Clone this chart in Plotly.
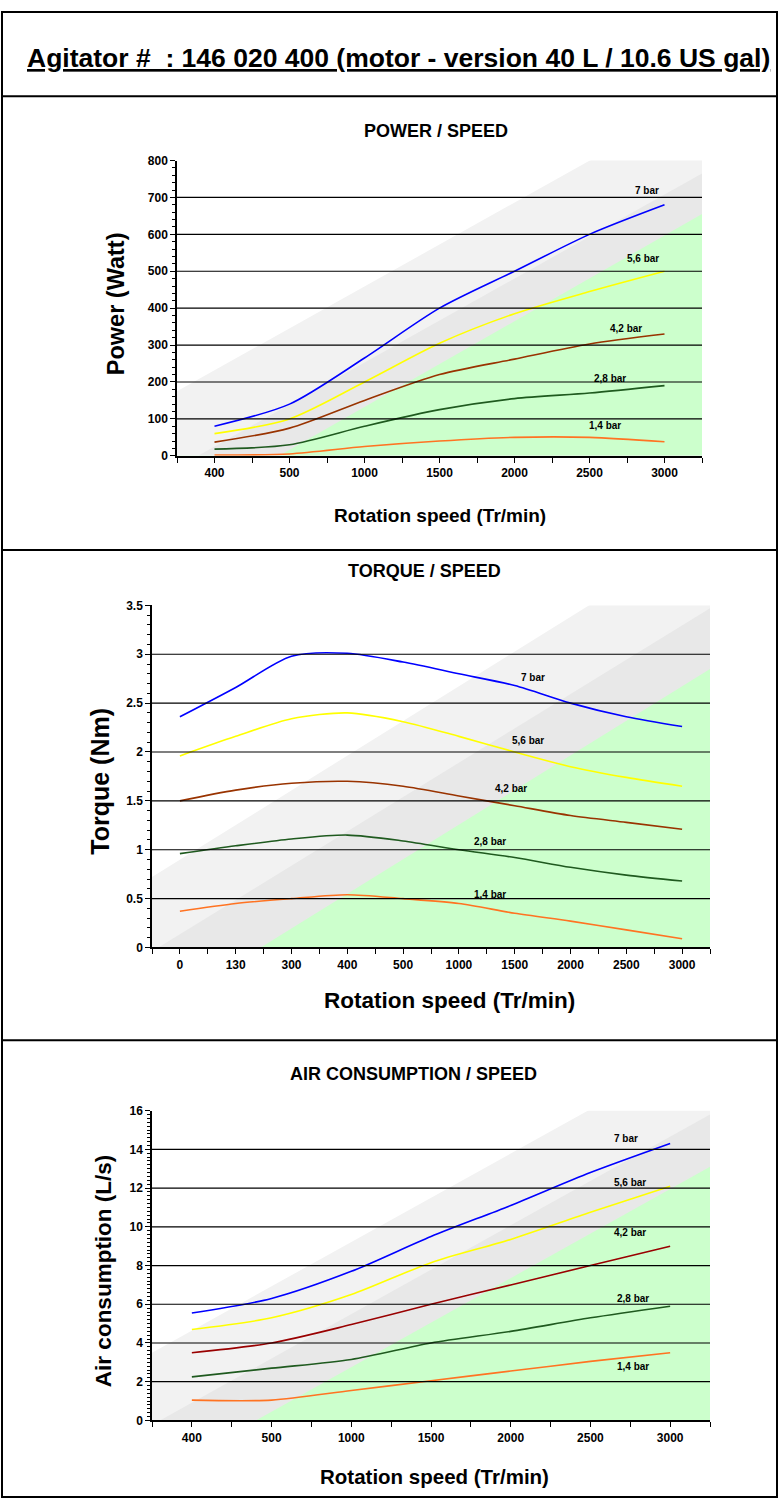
import plotly.graph_objects as go

W, H = 779, 1506

pressures = ["7 bar", "5,6 bar", "4,2 bar", "2,8 bar", "1,4 bar"]
colors = ["#0000ff", "#ffff00", "#993300", "#1f5a1f", "#ff7322"]
band_colors = ["#f2f2f2", "#e8e8e8", "#ccffcc"]

# POWER / SPEED
power_speed = ["400", "500", "1000", "1500", "2000", "2500", "3000"]
power_7 = [80, 140, 265, 400, 500, 600, 680]
power_56 = [60, 100, 200, 305, 385, 445, 500]
power_42 = [37, 75, 150, 220, 262, 303, 330]
power_28 = [18, 30, 80, 125, 155, 170, 190]
power_14 = [2, 5, 25, 40, 50, 50, 38]
power_band_left = [175, -32, -158]
power_band_right = [970, 765, 655]

# TORQUE / SPEED
torque_speed = ["0", "130", "300", "400", "500", "1000", "1500", "2000", "2500", "3000"]
torque_7 = [2.36, 2.66, 2.98, 3.01, 2.92, 2.8, 2.68, 2.5, 2.36, 2.26]
torque_56 = [1.96, 2.16, 2.34, 2.40, 2.31, 2.16, 2.0, 1.85, 1.74, 1.65]
torque_42 = [1.5, 1.61, 1.68, 1.70, 1.65, 1.55, 1.45, 1.35, 1.28, 1.21]
torque_28 = [0.96, 1.04, 1.11, 1.15, 1.09, 1.0, 0.92, 0.82, 0.74, 0.68]
torque_14 = [0.37, 0.45, 0.5, 0.54, 0.5, 0.45, 0.35, 0.27, 0.18, 0.09]
torque_band_left = [0.72, -0.04, -0.69]
torque_band_right = [4.27, 3.47, 2.85]

# AIR CONSUMPTION / SPEED
air_speed = ["400", "500", "1000", "1500", "2000", "2500", "3000"]
air_7 = [5.55, 6.3, 7.7, 9.5, 11.1, 12.8, 14.3]
air_56 = [4.7, 5.3, 6.5, 8.15, 9.35, 10.75, 12.1]
air_42 = [3.5, 4.0, 4.95, 6.0, 7.0, 8.0, 9.0]
air_28 = [2.25, 2.7, 3.15, 4.0, 4.6, 5.3, 5.9]
air_14 = [1.05, 1.05, 1.55, 2.05, 2.55, 3.05, 3.5]
air_band_left = [3.5, -0.23, -3.0]
air_band_right = [19.5, 15.8, 13.1]

FONT = "Liberation Sans, Arial, sans-serif"


def px_x(p):
    return p / W


def px_y(p):
    return 1 - p / H


fig = go.Figure()


def paper_text(x, y, text, size, angle=0):
    fig.add_annotation(
        x=px_x(x), y=px_y(y), xref="paper", yref="paper", xanchor="center", yanchor="middle",
        text=text, showarrow=False, textangle=angle,
        font=dict(family=FONT, size=size, color="black"),
    )


def add_chart(k, cats, series, band_left, band_right, ymax, ydtick, yminor,
              xdom, ydom, label_pos, title, title_xy, ytitle, ytitle_xy, ytitle_size,
              xtitle_xy, xtitle_size, line_color3=None):
    xa = "x" if k == 1 else f"x{k}"
    ya = "y" if k == 1 else f"y{k}"
    n = len(cats)
    idx = list(range(n))

    # bandes de fond
    for lo, hi, bc in zip(band_left, band_right, band_colors):
        fig.add_trace(go.Scatter(
            x=[-0.5, n - 0.5], y=[lo, hi], mode="lines", line=dict(width=0),
            fill="tozeroy", fillcolor=bc, hoverinfo="skip", showlegend=False,
            xaxis=xa, yaxis=ya,
        ))

    for i, (vals, name) in enumerate(zip(series, pressures)):
        c = colors[i]
        if i == 2 and line_color3:
            c = line_color3
        fig.add_trace(go.Scatter(
            x=idx, y=vals, mode="lines", name=name,
            line=dict(color=c, width=1.6, shape="spline", smoothing=0.8),
            showlegend=False, xaxis=xa, yaxis=ya,
        ))
        lx, ly = label_pos[i]
        fig.add_annotation(
            x=lx, y=ly, xref=xa, yref=ya, xanchor="center", yanchor="middle",
            text=f"<b>{name}</b>", showarrow=False,
            font=dict(family=FONT, size=10, color="black"),
        )

    # lignes horizontales noires
    v = ydtick
    while v < ymax - 1e-9:
        fig.add_shape(type="line", xref=f"{xa} domain", x0=0, x1=1, yref=ya, y0=v, y1=v,
                      line=dict(color="black", width=1.2), layer="above")
        v += ydtick

    tickfont = dict(family=FONT, size=12, color="black", weight="bold")
    xkey = "xaxis" if k == 1 else f"xaxis{k}"
    ykey = "yaxis" if k == 1 else f"yaxis{k}"
    fig.update_layout({
        xkey: dict(
            domain=xdom, anchor=ya, range=[-0.5, n - 0.5], tickmode="array",
            tickvals=idx, ticktext=cats, ticks="outside", ticklen=5, tickcolor="black",
            minor=dict(tickmode="linear", tick0=0.5, dtick=1, ticks="outside", ticklen=5,
                       tickcolor="black"),
            showline=True, linecolor="black", linewidth=1.5, showgrid=False, zeroline=False,
            tickfont=tickfont, fixedrange=True,
        ),
        ykey: dict(
            domain=ydom, anchor=xa, range=[0, ymax], dtick=ydtick, tick0=0,
            ticks="outside", ticklen=5, tickcolor="black",
            minor=dict(dtick=yminor, ticks="outside", ticklen=3, tickcolor="black"),
            showline=True, linecolor="black", linewidth=1.5, showgrid=False, zeroline=False,
            tickfont=tickfont, fixedrange=True,
        ),
    })

    paper_text(title_xy[0], title_xy[1], f"<b>{title}</b>", 18)
    paper_text(ytitle_xy[0], ytitle_xy[1], f"<b>{ytitle}</b>", ytitle_size, angle=-90)
    paper_text(xtitle_xy[0], xtitle_xy[1], "<b>Rotation speed (Tr/min)</b>", xtitle_size)


add_chart(
    1, power_speed, [power_7, power_56, power_42, power_28, power_14],
    power_band_left, power_band_right, 800, 100, 20,
    [px_x(177), px_x(702)], [px_y(453), px_y(155)],
    [(5.77, 720), (5.71, 535), (5.49, 346), (5.27, 210), (5.2, 81)],
    "POWER / SPEED", (436, 125), "Power (Watt)", (116, 300), 23.5, (440, 513), 19,
)
add_chart(
    2, torque_speed, [torque_7, torque_56, torque_42, torque_28, torque_14],
    torque_band_left, torque_band_right, 3.5, 0.5, 0.1,
    [px_x(152), px_x(710)], [px_y(949.3), px_y(604)],
    [(6.32, 2.76), (6.23, 2.12), (5.93, 1.63), (5.56, 1.08), (5.56, 0.54)],
    "TORQUE / SPEED", (424, 569), "Torque (Nm)", (100, 782), 25, (450, 1003), 22.5,
)
add_chart(
    3, air_speed, [air_7, air_56, air_42, air_28, air_14],
    air_band_left, air_band_right, 16, 2, 0.2,
    [px_x(152), px_x(710)], [px_y(1426.7), px_y(1114)],
    [(5.44, 14.57), (5.5, 12.27), (5.5, 9.7), (5.54, 6.28), (5.54, 2.8)],
    "AIR CONSUMPTION / SPEED", (413, 1077), "Air consumption (L/s)", (103, 1276), 22.5,
    (434, 1483), 20.5, line_color3="#990000",
)

# en-tete et cadre
paper_text(398, 51, "<b><u>Agitator #  : 146 020 400 (motor - version 40 L / 10.6 US gal)</u></b>", 26.5)
fig.add_shape(type="rect", xref="paper", yref="paper", x0=px_x(2), x1=px_x(777),
              y0=px_y(1504), y1=px_y(5), line=dict(color="black", width=2))
for yy in [90, 548, 1043]:
    fig.add_shape(type="line", xref="paper", yref="paper", x0=px_x(2), x1=px_x(777),
                  y0=px_y(yy), y1=px_y(yy), line=dict(color="black", width=2))

fig.update_layout(
    width=W, height=H,
    margin=dict(l=0, r=0, t=0, b=0),
    paper_bgcolor="white",
    plot_bgcolor="white",
    showlegend=False,
)

fig.write_html(
    "out.html",
    config={"displayModeBar": False},
    post_script="document.body.style.margin='0';document.body.style.overflow='hidden';",
)
